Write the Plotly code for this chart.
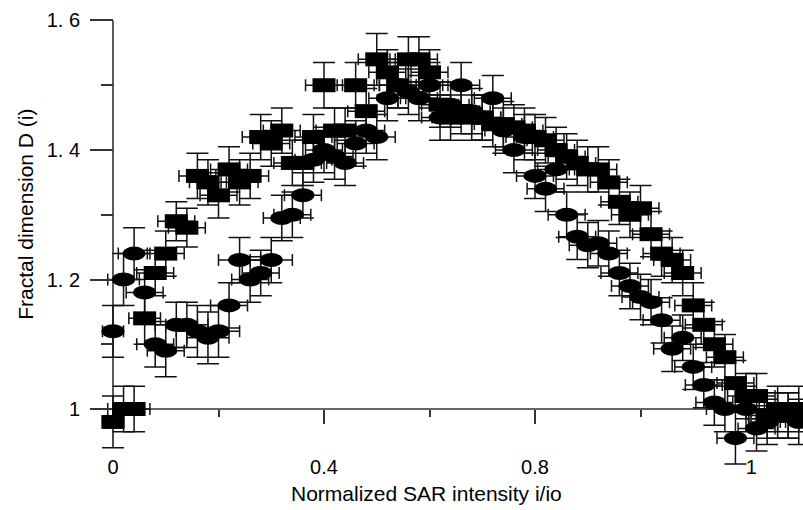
import plotly.graph_objects as go

# ---------------- data ----------------
x_sq = [0.00, 0.02, 0.04, 0.06, 0.08, 0.10, 0.12, 0.14, 0.16, 0.18, 0.20, 0.22, 0.24, 0.26, 0.28, 0.30,
        0.32, 0.34, 0.36, 0.38, 0.40, 0.42, 0.44, 0.46, 0.48, 0.50, 0.52, 0.54, 0.56, 0.58, 0.60, 0.62,
        0.64, 0.66, 0.68, 0.70, 0.72, 0.74, 0.76, 0.78, 0.80, 0.82, 0.84, 0.86, 0.88, 0.90, 0.92, 0.94,
        0.96, 0.98, 1.00, 1.02, 1.04, 1.06, 1.08, 1.10, 1.12, 1.14, 1.16, 1.18, 1.20, 1.22, 1.24, 1.26,
        1.28, 1.30]
y_sq = [0.98, 1.00, 1.00, 1.14, 1.21, 1.24, 1.29, 1.28, 1.36, 1.35, 1.33, 1.37, 1.35, 1.36, 1.42, 1.41,
        1.43, 1.38, 1.38, 1.42, 1.50, 1.43, 1.43, 1.50, 1.46, 1.54, 1.52, 1.50, 1.54, 1.54, 1.52, 1.47,
        1.45, 1.46, 1.45, 1.45, 1.44, 1.44, 1.435, 1.43, 1.42, 1.415, 1.40, 1.39, 1.38, 1.37, 1.37, 1.35,
        1.32, 1.30, 1.31, 1.27, 1.24, 1.23, 1.21, 1.16, 1.13, 1.10, 1.08, 1.04, 1.02, 1.02, 0.99, 1.00,
        0.99, 1.00]
ey_sq = [0.040, 0.035, 0.035, 0.040, 0.035, 0.035, 0.030, 0.030, 0.035, 0.035, 0.035, 0.035, 0.035, 0.035, 0.035, 0.035,
         0.035, 0.035, 0.035, 0.035, 0.035, 0.035, 0.035, 0.035, 0.035, 0.040, 0.035, 0.035, 0.035, 0.035, 0.035, 0.035,
         0.035, 0.035, 0.035, 0.035, 0.035, 0.035, 0.035, 0.035, 0.035, 0.035, 0.035, 0.035, 0.035, 0.035, 0.035, 0.035,
         0.035, 0.035, 0.035, 0.035, 0.035, 0.035, 0.035, 0.035, 0.035, 0.035, 0.035, 0.035, 0.035, 0.035, 0.035, 0.035,
         0.035, 0.035]
ex_sq = [0.020, 0.030, 0.030, 0.030, 0.035, 0.035, 0.035, 0.035, 0.035, 0.035, 0.035, 0.035, 0.035, 0.035, 0.035, 0.035,
         0.035, 0.035, 0.035, 0.035, 0.035, 0.035, 0.035, 0.035, 0.035, 0.035, 0.035, 0.035, 0.035, 0.035, 0.035, 0.035,
         0.035, 0.035, 0.035, 0.035, 0.035, 0.035, 0.035, 0.035, 0.035, 0.035, 0.035, 0.035, 0.035, 0.035, 0.035, 0.035,
         0.035, 0.035, 0.035, 0.035, 0.035, 0.035, 0.035, 0.035, 0.035, 0.035, 0.035, 0.035, 0.035, 0.035, 0.035, 0.035,
         0.035, 0.035]

x_el = [0.00, 0.02, 0.04, 0.06, 0.08, 0.10, 0.12, 0.14, 0.16, 0.18, 0.20, 0.22, 0.24, 0.26, 0.28, 0.30,
        0.32, 0.34, 0.36, 0.38, 0.40, 0.42, 0.44, 0.46, 0.48, 0.50, 0.52, 0.54, 0.56, 0.58, 0.60, 0.62,
        0.64, 0.66, 0.68, 0.70, 0.72, 0.74, 0.76, 0.78, 0.80, 0.82, 0.84, 0.86, 0.88, 0.90, 0.92, 0.94,
        0.96, 0.98, 1.00, 1.02, 1.04, 1.06, 1.08, 1.10, 1.12, 1.14, 1.16, 1.18, 1.20, 1.22, 1.24, 1.26,
        1.28, 1.30]
y_el = [1.12, 1.20, 1.24, 1.18, 1.10, 1.09, 1.13, 1.13, 1.12, 1.11, 1.12, 1.16, 1.23, 1.20, 1.21, 1.23,
        1.295, 1.30, 1.33, 1.385, 1.40, 1.39, 1.38, 1.41, 1.43, 1.42, 1.48, 1.50, 1.49, 1.48, 1.50, 1.45,
        1.47, 1.50, 1.46, 1.45, 1.48, 1.43, 1.40, 1.42, 1.36, 1.34, 1.37, 1.30, 1.266, 1.253, 1.256, 1.24,
        1.21, 1.19, 1.173, 1.165, 1.137, 1.093, 1.11, 1.065, 1.037, 1.01, 1.00, 0.955, 1.00, 0.97, 0.98, 0.99,
        0.99, 0.98]
ey_el = [0.040, 0.040, 0.040, 0.035, 0.035, 0.040, 0.035, 0.035, 0.040, 0.040, 0.040, 0.035, 0.035, 0.035, 0.035, 0.035,
         0.035, 0.035, 0.035, 0.035, 0.035, 0.035, 0.035, 0.035, 0.035, 0.035, 0.035, 0.035, 0.035, 0.035, 0.035, 0.035,
         0.035, 0.035, 0.035, 0.035, 0.035, 0.035, 0.035, 0.035, 0.035, 0.035, 0.035, 0.035, 0.035, 0.035, 0.035, 0.035,
         0.035, 0.035, 0.035, 0.035, 0.035, 0.035, 0.035, 0.035, 0.035, 0.035, 0.035, 0.040, 0.035, 0.035, 0.035, 0.035,
         0.035, 0.035]
ex_el = [0.020, 0.030, 0.030, 0.035, 0.035, 0.035, 0.040, 0.040, 0.040, 0.040, 0.040, 0.035, 0.040, 0.035, 0.035, 0.040,
         0.035, 0.035, 0.035, 0.035, 0.035, 0.035, 0.035, 0.035, 0.035, 0.035, 0.035, 0.035, 0.035, 0.035, 0.035, 0.035,
         0.035, 0.035, 0.035, 0.035, 0.035, 0.035, 0.035, 0.035, 0.035, 0.035, 0.035, 0.035, 0.035, 0.035, 0.035, 0.035,
         0.035, 0.035, 0.035, 0.035, 0.035, 0.035, 0.035, 0.035, 0.035, 0.035, 0.035, 0.035, 0.035, 0.035, 0.035, 0.035,
         0.035, 0.035]

x_tickvals = [0.0, 0.4, 0.8, 1.21]
x_ticktext = ["0", "0.4", "0.8", "1"]
x_minor = [0.2, 0.6, 1.0]
y_tickvals = [1.0, 1.2, 1.4, 1.6]
y_ticktext = ["1", "1. 2", "1. 4", "1. 6"]
y_minor = [1.1, 1.3, 1.5]

x_title = "Normalized SAR intensity i/io"
y_title = "Fractal dimension D (i)"

# ---------------- layout geometry ----------------
W, H = 803, 510
ML, MR, MT, MB = 80, 0, 10, 40
XMIN, XMAX = -0.06256, 1.30806
YMIN, YMAX = 0.9058, 1.6162
FONT = "Liberation Sans, Arial, Helvetica, sans-serif"
AXC = "#333333"
INK = "#111111"

fig = go.Figure()

for xs, ys, exs, eys in [(x_sq, y_sq, ex_sq, ey_sq), (x_el, y_el, ex_el, ey_el)]:
    fig.add_trace(go.Scatter(
        x=xs, y=ys, mode="markers",
        marker=dict(size=2, color="rgba(0,0,0,0)"),
        error_y=dict(type="data", array=eys, visible=True, thickness=1.5, width=11, color=INK),
        error_x=dict(type="data", array=exs, visible=True, thickness=1.5, width=6, color=INK),
        showlegend=False, hoverinfo="skip"))

shapes = []
# axis lines (y-axis from 1 to 1.6 at x=0, x-axis along y=1)
shapes.append(dict(type="line", xref="x", yref="y", x0=0, x1=0, y0=y_tickvals[0], y1=y_tickvals[-1],
                   line=dict(color=AXC, width=1.6), layer="below"))
shapes.append(dict(type="line", xref="x", yref="y", x0=0, x1=XMAX, y0=1.0, y1=1.0,
                   line=dict(color=AXC, width=1.6), layer="below"))
# marker bodies: 23x14 px rectangles and ellipses anchored on data
for xv, yv in zip(x_sq, y_sq):
    shapes.append(dict(type="rect", xref="x", yref="y", xsizemode="pixel", ysizemode="pixel",
                       xanchor=xv, yanchor=yv, x0=-11.5, x1=11.5, y0=-7, y1=7,
                       fillcolor="black", line=dict(width=0), layer="above"))
for xv, yv in zip(x_el, y_el):
    shapes.append(dict(type="circle", xref="x", yref="y", xsizemode="pixel", ysizemode="pixel",
                       xanchor=xv, yanchor=yv, x0=-11.5, x1=11.5, y0=-7, y1=7,
                       fillcolor="black", line=dict(width=0), layer="above"))

xpos = (1.0 - YMIN) / (YMAX - YMIN)
ypos = (0.0 - XMIN) / (XMAX - XMIN)

fig.update_layout(
    width=W, height=H,
    margin=dict(l=ML, r=MR, t=MT, b=MB),
    paper_bgcolor="white", plot_bgcolor="white",
    font=dict(family=FONT, color="black"),
    shapes=shapes,
    xaxis=dict(range=[XMIN, XMAX], anchor="free", position=xpos,
               showline=False, showgrid=False, zeroline=False,
               tickmode="array", tickvals=x_tickvals, ticktext=x_ticktext,
               ticks="outside", ticklen=14, tickwidth=1.6, tickcolor=AXC,
               ticklabelstandoff=26,
               tickfont=dict(size=20, family=FONT, color="black"),
               minor=dict(tickmode="array", tickvals=x_minor, ticks="outside",
                          ticklen=7, tickwidth=1.6, tickcolor=AXC)),
    yaxis=dict(range=[YMIN, YMAX], anchor="free", position=ypos,
               showline=False, showgrid=False, zeroline=False,
               tickmode="array", tickvals=y_tickvals, ticktext=y_ticktext,
               ticks="outside", ticklen=23, tickwidth=1.6, tickcolor=AXC,
               ticklabelstandoff=6,
               tickfont=dict(size=20, family=FONT, color="black"),
               minor=dict(tickmode="array", tickvals=y_minor, ticks="outside",
                          ticklen=12, tickwidth=1.6, tickcolor=AXC)),
    annotations=[
        dict(text=x_title, xref="x", yref="paper", x=0.595, y=-(494 - (H - MB)) / (H - MT - MB),
             xanchor="center", yanchor="middle", showarrow=False,
             font=dict(size=21, family=FONT, color="black")),
        dict(text=y_title, xref="paper", yref="y", x=(26 - ML) / (W - ML - MR), y=1.3,
             xanchor="center", yanchor="middle", textangle=-90, showarrow=False,
             font=dict(size=21, family=FONT, color="black")),
    ],
)

fig.write_html("out.html")
